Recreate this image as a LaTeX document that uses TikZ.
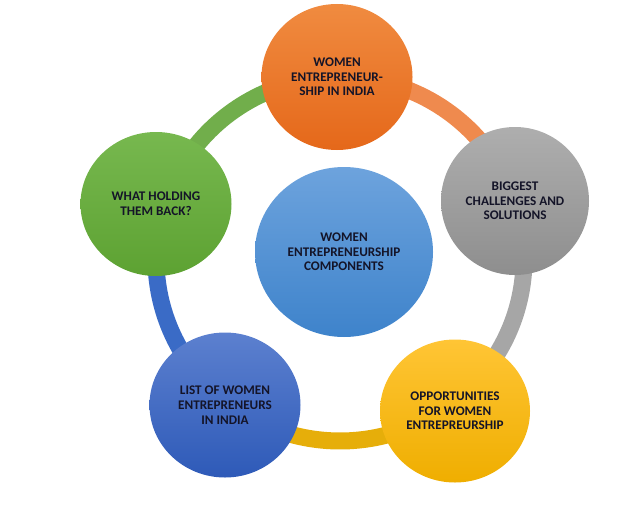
\documentclass[tikz,border=0pt]{standalone}
\usepackage{fontspec}
\setmainfont{Carlito}
\usetikzlibrary{shapes.geometric}
\definecolor{txt}{RGB}{20,20,40}
\definecolor{orT}{HTML}{F08B40}\definecolor{orB}{HTML}{E5681A}\definecolor{orR}{HTML}{EF8A4E}
\definecolor{grT}{HTML}{AEAEAE}\definecolor{grB}{HTML}{8E8E8E}\definecolor{grR}{HTML}{A6A6A6}
\definecolor{yeT}{HTML}{FFC535}\definecolor{yeB}{HTML}{EFAE00}\definecolor{yeR}{HTML}{E6AE0A}
\definecolor{blT}{HTML}{5C80CF}\definecolor{blB}{HTML}{2E5AB8}\definecolor{blR}{HTML}{3A6BC6}
\definecolor{gnT}{HTML}{77B84F}\definecolor{gnB}{HTML}{5DA232}\definecolor{gnR}{HTML}{71AE4B}
\definecolor{ceT}{HTML}{6DA3DD}\definecolor{ceB}{HTML}{3E83CB}
\tikzset{
  bubble/.style={ellipse, inner sep=0pt, minimum width=151pt, minimum height=146pt,
    align=center, text=txt, font=\fontsize{13.2}{14.7}\selectfont\bfseries},
  bigbubble/.style={bubble, minimum width=178pt, minimum height=170pt},
  ringseg/.style={line width=17pt, line cap=butt}
}
\begin{document}
\begin{tikzpicture}[x=1pt,y=1pt]
\useasboundingbox (0,0) rectangle (628,-516);
\coordinate (ring) at (340,-259);
% ring segments
\draw[ringseg, orR] (ring) ++(91:184 and 182) arc[start angle=91, end angle=18.3, x radius=184, y radius=182];
\draw[ringseg, grR] (ring) ++(18.3:184 and 182) arc[start angle=18.3, end angle=-52.9, x radius=184, y radius=182];
\draw[ringseg, yeR] (ring) ++(-52.9:184 and 182) arc[start angle=-52.9, end angle=-128.2, x radius=184, y radius=182];
\draw[ringseg, blR] (ring) ++(-128.2:184 and 182) arc[start angle=-128.2, end angle=-196.6, x radius=184, y radius=182];
\draw[ringseg, gnR] (ring) ++(163.4:184 and 182) arc[start angle=163.4, end angle=91, x radius=184, y radius=182];
% circles
\node[bubble, top color=orT, bottom color=orB] (top) at (337,-77) {WOMEN\\ENTREPRENEUR-\\SHIP IN INDIA};
\node[bubble, minimum width=148pt, minimum height=148pt, top color=grT, bottom color=grB] (right) at (515,-201) {BIGGEST\\CHALLENGES AND\\SOLUTIONS};
\node[bubble, minimum width=150pt, minimum height=143pt, top color=yeT, bottom color=yeB] (botright) at (455,-411) {OPPORTUNITIES\\FOR WOMEN\\ENTREPREURSHIP};
\node[bubble, minimum height=145pt, top color=blT, bottom color=blB] (botleft) at (225,-405) {LIST OF WOMEN\\ENTREPRENEURS\\IN INDIA};
\node[bubble, minimum height=144pt, top color=gnT, bottom color=gnB] (left) at (156,-204) {WHAT HOLDING\\THEM BACK?};
\node[bigbubble, top color=ceT, bottom color=ceB] (center) at (344,-252) {WOMEN\\ENTREPRENEURSHIP\\COMPONENTS};
\end{tikzpicture}
\end{document}
